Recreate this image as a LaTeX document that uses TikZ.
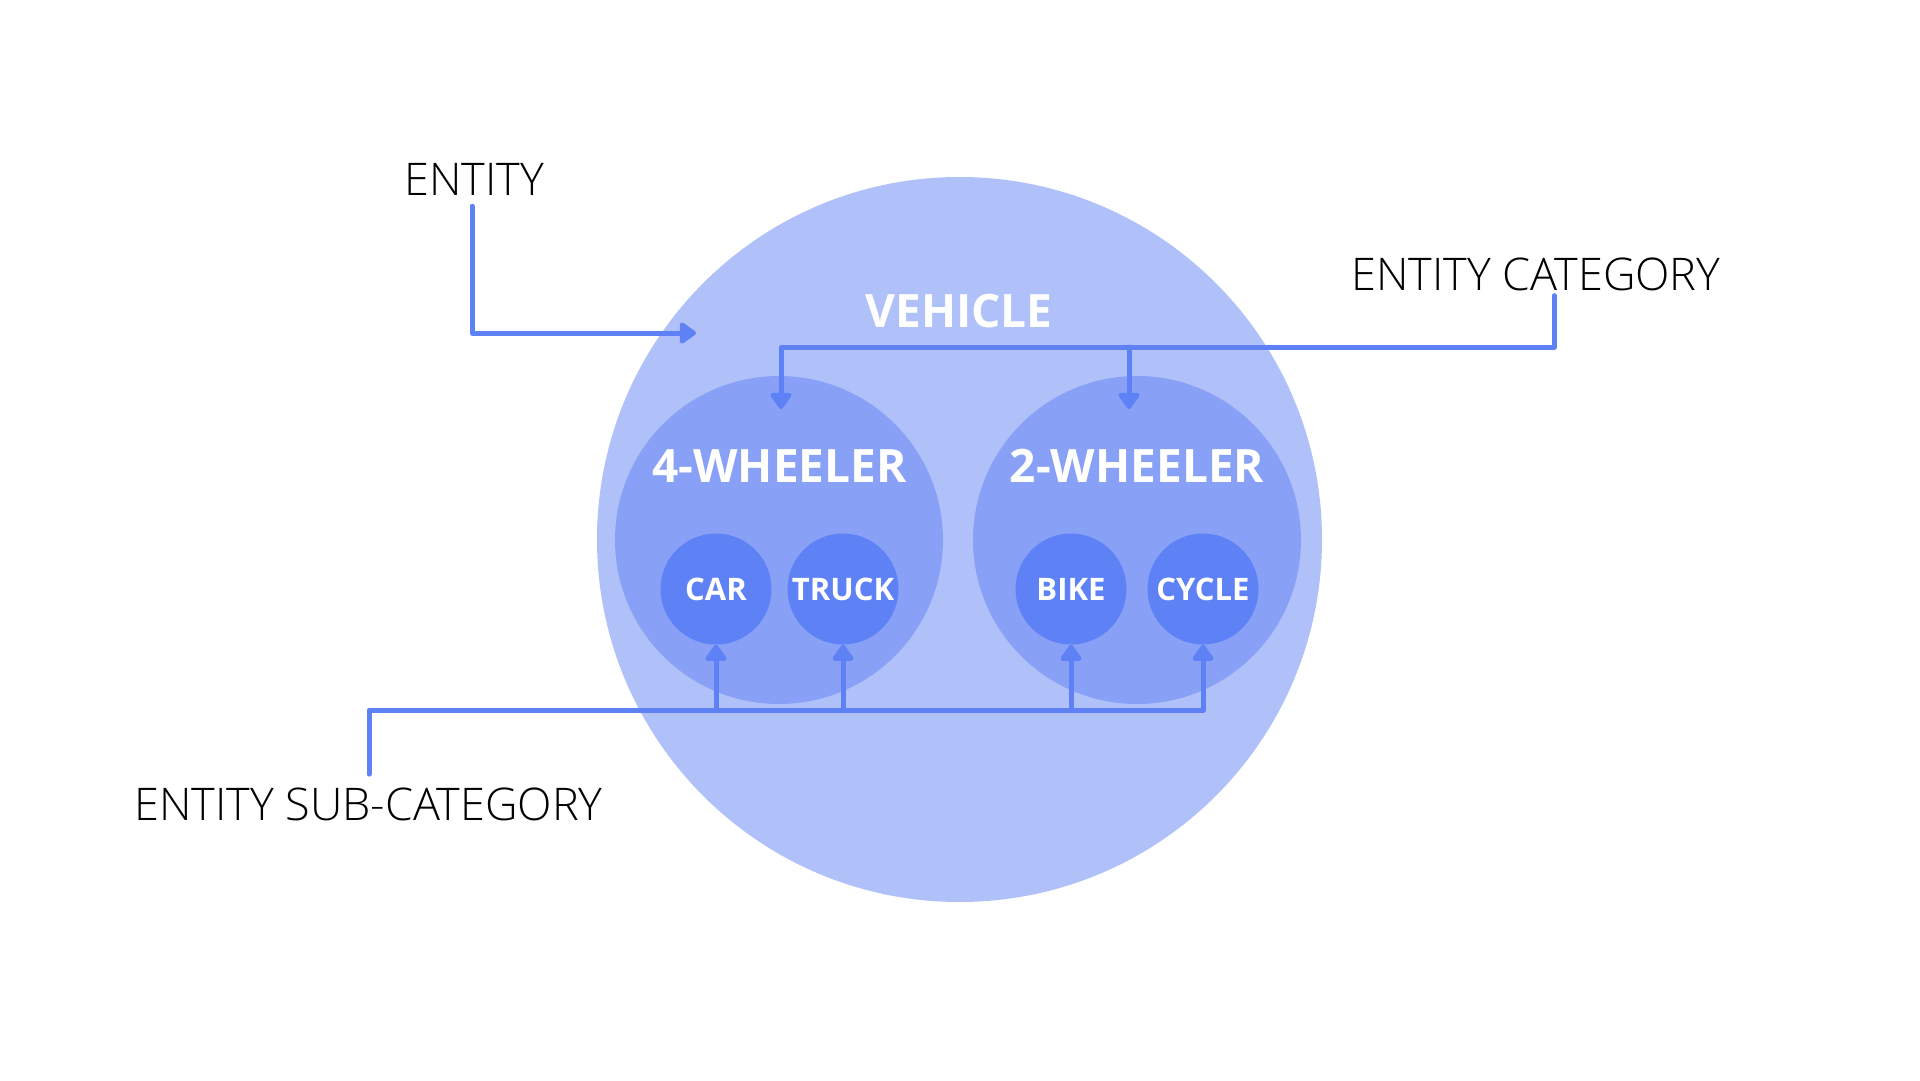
\documentclass[tikz,border=0pt]{standalone}
\usepackage{fontspec}
\setmainfont{Open Sans}
\newfontfamily\lightfont{Open Sans Light}
\usetikzlibrary{arrows.meta,calc}
\definecolor{outerc}{HTML}{B0C1FA}
\definecolor{midc}{HTML}{88A1F6}
\definecolor{innerc}{HTML}{5E82F5}
\definecolor{linec}{HTML}{5E82F5}
\begin{document}
\begin{tikzpicture}[x=1pt,y=-1pt,
  bubble/.style={circle, inner sep=0pt, draw=none},
  conn/.style={draw=linec, line width=5pt, line cap=round, line join=round},
  arr/.style={conn, -{Triangle[width=24pt,length=18pt,round]}},
  lbl/.style={font=\lightfont\fontsize{45}{54}\selectfont, text=black, inner sep=0pt, anchor=base},
  ttl/.style={font=\bfseries\fontsize{46}{55}\selectfont, text=white, inner sep=0pt, anchor=base},
  sml/.style={font=\bfseries\fontsize{31}{36}\selectfont, text=white},
]
\useasboundingbox (0,0) rectangle (1920,1080);
\fill[white] (0,0) rectangle (1920,1080);
% circles
\node[bubble, fill=outerc, minimum size=725pt] (vehicle) at (959.5,539.5) {};
\node[bubble, fill=midc, minimum size=328pt] (four) at (779,540) {};
\node[bubble, fill=midc, minimum size=328pt] (two) at (1137,540) {};
\node[bubble, fill=innerc, minimum size=111pt, sml] (car) at (716,589) {CAR};
\node[bubble, fill=innerc, minimum size=111pt, sml] (truck) at (843,589) {TRUCK};
\node[bubble, fill=innerc, minimum size=111pt, sml] (bike) at (1071,589) {BIKE};
\node[bubble, fill=innerc, minimum size=111pt, sml] (cycle) at (1203,589) {CYCLE};
% titles
\node[ttl] (vehicleT) at (959,327) {VEHICLE};
\node[ttl] (fourT) at (779.5,482) {4-WHEELER};
\node[ttl] (twoT) at (1137,482) {2-WHEELER};
% labels
\node[lbl] (entity) at (474,195) {ENTITY};
\node[lbl] (entcat) at (1536,290) {ENTITY CATEGORY};
\node[lbl] (entsub) at (368.5,820) {ENTITY SUB-CATEGORY};
% coordinates
\coordinate (entityTip) at (696,333);
\coordinate (catbar) at (781,347);
\coordinate (fourTip) at (781,409);
\coordinate (twoTip) at (1129,409);
\coordinate (subbar) at (369,710);
% connectors
\draw[arr] ($(entity.south)+(-2,11)$) |- (entityTip);
\draw[arr] ($(entcat.south)+(18,5)$) |- (catbar) -- (fourTip);
\draw[arr] (twoTip |- catbar) -- (twoTip);
\draw[arr] ($(entsub.north)+(0.5,-13)$) |- (cycle.south |- subbar) -- (cycle.south);
\draw[arr] (car.south |- subbar) -- (car.south);
\draw[arr] (truck.south |- subbar) -- (truck.south);
\draw[arr] (bike.south |- subbar) -- (bike.south);
\end{tikzpicture}
\end{document}
